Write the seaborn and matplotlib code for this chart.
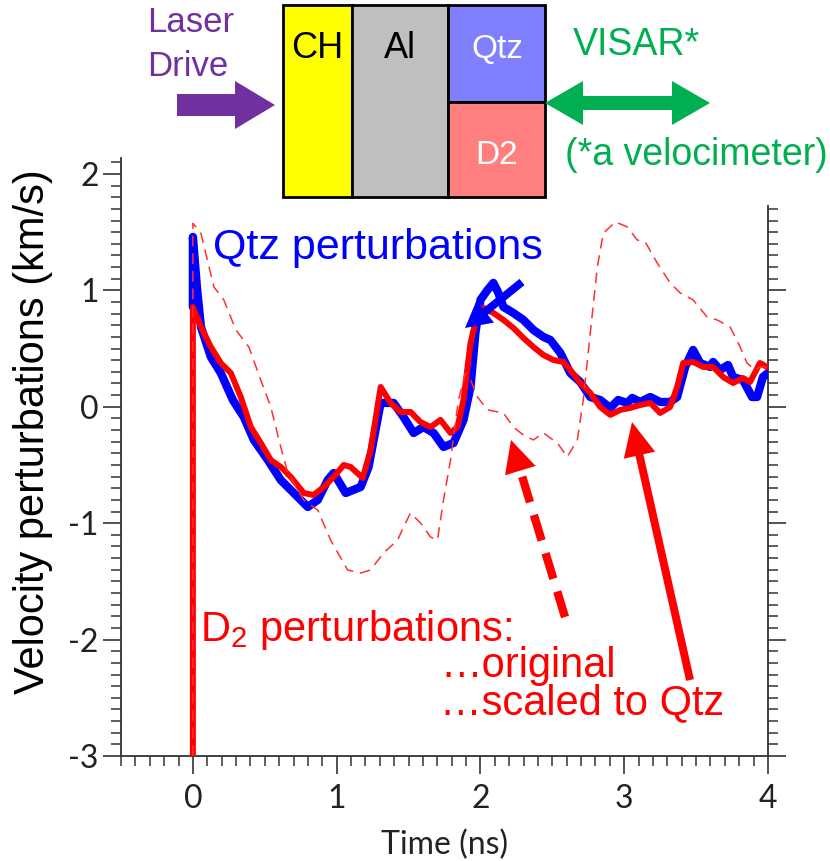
import numpy as np
import pandas as pd
import matplotlib
matplotlib.use("Agg")
import matplotlib.pyplot as plt
import seaborn as sns
from matplotlib.patches import Rectangle, FancyArrow
from matplotlib.ticker import MultipleLocator

# ---------------- data ----------------
qtz_t = [0.0, 0.0, 0.028, 0.056, 0.125, 0.194, 0.278, 0.354, 0.424, 0.521, 0.611, 0.681,
         0.799, 0.868, 0.938, 0.979, 1.063, 1.167, 1.222, 1.306, 1.396, 1.465, 1.535, 1.604,
         1.674, 1.743, 1.813, 1.882, 1.931, 1.965, 2.000, 2.049, 2.090, 2.125, 2.160, 2.229,
         2.299, 2.368, 2.438, 2.486, 2.556, 2.625, 2.694, 2.764, 2.833, 2.903, 2.958, 3.021,
         3.056, 3.111, 3.181, 3.250, 3.319, 3.368, 3.424, 3.479, 3.528, 3.597, 3.618, 3.667,
         3.722, 3.757, 3.826, 3.889, 3.924, 3.965, 4.0]
qtz_v = [0.857, 1.459, 1.029, 0.686, 0.428, 0.290, 0.058, -0.088, -0.285, -0.457, -0.629, -0.715,
         -0.861, -0.801, -0.629, -0.569, -0.741, -0.689, -0.517, 0.033, 0.033, -0.088, -0.225, -0.174,
         -0.225, -0.345, -0.311, -0.113, 0.170, 0.634, 0.918, 1.003, 1.064, 0.978, 0.857, 0.806,
         0.746, 0.660, 0.600, 0.574, 0.462, 0.290, 0.213, 0.084, 0.058, -0.010, 0.058, 0.033,
         0.076, 0.041, 0.084, 0.041, 0.041, 0.084, 0.342, 0.488, 0.376, 0.342, 0.385, 0.316,
         0.359, 0.256, 0.230, 0.084, 0.084, 0.256, 0.290]

d2s_t = [0.0, 0.0, 0.056, 0.125, 0.194, 0.264, 0.333, 0.403, 0.472, 0.542, 0.611, 0.681,
         0.771, 0.840, 0.910, 0.979, 1.049, 1.097, 1.181, 1.236, 1.306, 1.375, 1.444, 1.514,
         1.583, 1.653, 1.722, 1.792, 1.840, 1.882, 1.931, 1.979, 2.021, 2.090, 2.160, 2.229,
         2.299, 2.368, 2.438, 2.507, 2.576, 2.625, 2.694, 2.764, 2.833, 2.903, 2.972, 3.042,
         3.111, 3.181, 3.250, 3.319, 3.368, 3.410, 3.479, 3.549, 3.618, 3.688, 3.757, 3.826,
         3.875, 3.944, 3.993]
d2s_v = [-3.0, 0.857, 0.686, 0.514, 0.376, 0.290, 0.084, -0.174, -0.311, -0.457, -0.517, -0.603,
         -0.741, -0.758, -0.689, -0.603, -0.500, -0.517, -0.612, -0.371, 0.170, 0.033, -0.045, -0.045,
         -0.131, -0.174, -0.113, -0.225, -0.174, 0.058, 0.548, 0.806, 0.849, 0.806, 0.746, 0.677,
         0.591, 0.514, 0.445, 0.402, 0.385, 0.316, 0.204, 0.119, -0.002, -0.070, -0.027, -0.010,
         0.015, 0.033, -0.053, -0.002, 0.170, 0.376, 0.385, 0.342, 0.342, 0.256, 0.204, 0.247,
         0.213, 0.376, 0.342]

d2o_t = [0.0, 0.0, 0.056, 0.146, 0.215, 0.299, 0.389, 0.472, 0.542, 0.611, 0.660, 0.771,
         0.868, 0.958, 1.076, 1.167, 1.236, 1.326, 1.424, 1.465, 1.514, 1.583, 1.653, 1.701,
         1.743, 1.792, 1.847, 1.896, 1.931, 1.979, 2.049, 2.160, 2.229, 2.299, 2.368, 2.438,
         2.535, 2.604, 2.674, 2.715, 2.764, 2.813, 2.854, 2.938, 3.021, 3.090, 3.146, 3.229,
         3.319, 3.389, 3.479, 3.576, 3.646, 3.736, 3.806, 3.854, 3.910, 3.944, 3.993]
d2o_v = [-3.0, 1.576, 1.490, 1.029, 0.918, 0.660, 0.514, 0.230, -0.002, -0.345, -0.569, -0.801,
         -0.887, -1.145, -1.402, -1.428, -1.402, -1.256, -1.145, -1.033, -0.912, -0.998, -1.119, -1.145,
         -0.801, -0.457, 0.058, 0.290, 0.230, 0.084, -0.027, -0.053, -0.174, -0.243, -0.285, -0.225,
         -0.311, -0.431, -0.285, 0.058, 0.634, 1.201, 1.490, 1.588, 1.545, 1.433, 1.416, 1.236,
         1.064, 0.978, 0.918, 0.772, 0.746, 0.686, 0.514, 0.376, 0.316, 0.342, 0.342]

x_ticks = [0, 1, 2, 3, 4]
y_ticks = [-3, -2, -1, 0, 1, 2]

qtz = pd.DataFrame({"t": qtz_t, "v": qtz_v})
d2s = pd.DataFrame({"t": d2s_t, "v": d2s_v})
d2o = pd.DataFrame({"t": d2o_t, "v": d2o_v})

# ---------------- style ----------------
sns.set_theme(style="ticks")
plt.rcParams["font.family"] = ["Liberation Sans", "DejaVu Sans"]
plt.rcParams["mathtext.default"] = "regular"
plt.rcParams["axes.unicode_minus"] = False

W, H = 830, 861
fig = plt.figure(figsize=(W / 100, H / 100), dpi=100)
ax = fig.add_axes([121 / W, 1 - 756 / H, (768 - 121) / W, (756 - 158) / H])

sns.lineplot(data=qtz, x="t", y="v", ax=ax, color="#0000FF", lw=6.0, sort=False,
             estimator=None, solid_capstyle="round", solid_joinstyle="round", zorder=3)
sns.lineplot(data=d2s, x="t", y="v", ax=ax, color="#FF0000", lw=4.3, sort=False,
             estimator=None, solid_capstyle="round", solid_joinstyle="round", zorder=4)
sns.lineplot(data=d2o, x="t", y="v", ax=ax, color="#FF3030", lw=1.1, sort=False,
             estimator=None, zorder=5)
ax.lines[-1].set_dashes([7, 4.5])

ax.set_xlim(-0.5, 4.0)
ax.set_ylim(-3, 2.137)
ax.set_xticks(x_ticks)
ax.set_yticks(y_ticks)
ax.xaxis.set_minor_locator(MultipleLocator(0.1))
ax.yaxis.set_minor_locator(MultipleLocator(0.1))

tickfont = "Lato"
for lab in ax.get_xticklabels() + ax.get_yticklabels():
    lab.set_fontfamily(tickfont)
ax.tick_params(which="major", direction="out", length=13, width=1.2, colors="#333333",
               labelsize=23, labelcolor="#222222", pad=3)
ax.tick_params(which="minor", direction="out", length=7, width=1.1, colors="#333333")
ax.tick_params(which="both", right=True, labelright=False, top=False)
ax.tick_params(axis="x", pad=7)
for s in ["left", "right", "bottom"]:
    ax.spines[s].set_color("#333333")
    ax.spines[s].set_linewidth(1.3)
ax.spines["top"].set_visible(False)

ax.set_xlabel("Time (ns)", fontsize=23, family=tickfont, color="#222222")
ax.set_ylabel("Velocity perturbations (km/s)", fontsize=30, color="black")
ax.yaxis.label.set_va("center")
ax.yaxis.set_label_coords(-0.136, 0.542)
ax.xaxis.label.set_va("center")
ax.xaxis.set_label_coords(0.5, -0.149)

# ---------------- overlay (image-pixel coordinates) ----------------
ov = fig.add_axes([0, 0, 1, 1], zorder=10)
ov.set_xlim(0, W)
ov.set_ylim(H, 0)
ov.axis("off")
ov.patch.set_alpha(0)

# white background of the pasted target diagram
ov.add_patch(Rectangle((135, 0), W - 135, 205, fc="white", ec="none"))

# target layers
ov.add_patch(Rectangle((283, 5), 69, 192, fc="#FFFF00", ec="black", lw=2))
ov.add_patch(Rectangle((352, 5), 96, 192, fc="#BFBFBF", ec="black", lw=2))
ov.add_patch(Rectangle((448, 5), 97, 97, fc="#8080FF", ec="black", lw=2))
ov.add_patch(Rectangle((448, 102), 97, 95, fc="#FF7F7F", ec="black", lw=2))
ov.text(317, 48, "CH", fontsize=26, ha="center", va="center", color="black")
ov.text(400, 48, "Al", fontsize=26, ha="center", va="center", color="black")
ov.text(497, 50, "Qtz", fontsize=24, ha="center", va="center", color="white")
ov.text(497, 155, "D2", fontsize=24, ha="center", va="center", color="white")

purple = "#7030A0"
ov.text(147, 22, "Laser", fontsize=25, ha="left", va="center", color=purple)
ov.text(147, 66, "Drive", fontsize=25, ha="left", va="center", color=purple)
ov.add_patch(FancyArrow(177, 105, 98, 0, width=22, head_width=48, head_length=40,
                        length_includes_head=True, fc=purple, ec="none"))

green = "#00B050"
ov.text(573, 45, "VISAR*", fontsize=27, ha="left", va="center", color=green)
ov.text(565, 155, "(*a velocimeter)", fontsize=27, ha="left", va="center", color=green)
ov.add_patch(FancyArrow(627, 103, -82, 0, width=14, head_width=44, head_length=38,
                        length_includes_head=True, fc=green, ec="none"))
ov.add_patch(FancyArrow(627, 103, 83, 0, width=14, head_width=44, head_length=38,
                        length_includes_head=True, fc=green, ec="none"))

# annotations
ov.text(213, 248, "Qtz perturbations", fontsize=31, ha="left", va="center", color="#0000FF")
ov.add_patch(FancyArrow(522, 282, -57, 46, width=8, head_width=28, head_length=26,
                        length_includes_head=True, fc="#0000FF", ec="none"))

ov.text(200, 630, "D$_2$ perturbations:", fontsize=30, ha="left", va="center", color="#FF0000")
ov.text(440, 666, "\u2026original", fontsize=30, ha="left", va="center", color="#FF0000")
ov.text(440, 703, "\u2026scaled to Qtz", fontsize=30, ha="left", va="center", color="#FF0000")

# dashed arrow to the original D2 curve
tail = np.array([565.0, 617.0])
tip = np.array([511.0, 440.0])
u = (tip - tail) / np.linalg.norm(tip - tail)
hl = 32
base = tip - hl * u
ov.plot([tail[0], base[0]], [tail[1], base[1]], color="#FF0000", lw=6, dashes=[3.2, 1.6],
        solid_capstyle="butt", dash_capstyle="butt")
ov.add_patch(FancyArrow(base[0], base[1], *(tip - base), width=0.1, head_width=32,
                        head_length=hl, length_includes_head=True, fc="#FF0000", ec="none"))

# solid arrow to the scaled D2 curve
ov.add_patch(FancyArrow(690, 680, -58, -258, width=8, head_width=32, head_length=34,
                        length_includes_head=True, fc="#FF0000", ec="none"))

fig.savefig("out.png", dpi=100)
